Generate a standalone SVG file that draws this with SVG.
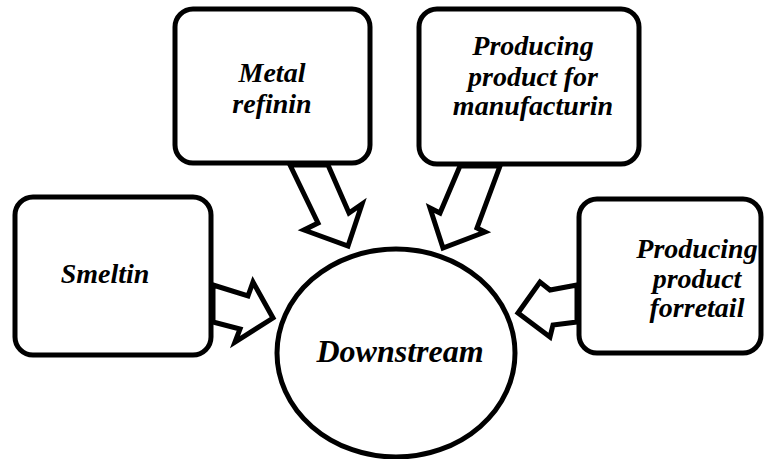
<svg xmlns="http://www.w3.org/2000/svg" width="767" height="459" viewBox="0 0 767 459">
<rect width="767" height="459" fill="#fff"/>
<g id="connectors" fill="#fff" stroke="#000" stroke-width="5">
<polygon points="290,165 318,223 304,230 348,246 362,204 349,213 328,165"/>
<polygon points="460,166 440,213 430,208 443,248 485,232 477,228 500,166"/>
<polygon points="213,285 248,296 253,282 273,318 235,342 240,329 213,322"/>
<polygon points="577,285 550,290 540,282 518,313 550,337 553,325 577,322"/>
</g>
<g id="metal">
<rect x="175" y="9" width="195" height="154" rx="18" fill="#fff" stroke="#000" stroke-width="5"/>
<text x="272" y="82" font-family="'Times New Roman', serif" font-weight="bold" font-style="italic" font-size="28" text-anchor="middle">Metal</text>
<text x="272" y="113" font-family="'Times New Roman', serif" font-weight="bold" font-style="italic" font-size="28" text-anchor="middle">refinin</text>
</g>
<g id="manufacturing">
<rect x="419" y="9" width="220" height="155" rx="18" fill="#fff" stroke="#000" stroke-width="5"/>
<text x="533" y="55" font-family="'Times New Roman', serif" font-weight="bold" font-style="italic" font-size="28" text-anchor="middle">Producing</text>
<text x="533" y="86" font-family="'Times New Roman', serif" font-weight="bold" font-style="italic" font-size="28" text-anchor="middle">product for</text>
<text x="533" y="115" font-family="'Times New Roman', serif" font-weight="bold" font-style="italic" font-size="28" text-anchor="middle">manufacturin</text>
</g>
<g id="smelting">
<rect x="15" y="197" width="196" height="158" rx="18" fill="#fff" stroke="#000" stroke-width="5"/>
<text x="105" y="283" font-family="'Times New Roman', serif" font-weight="bold" font-style="italic" font-size="28" text-anchor="middle">Smeltin</text>
</g>
<g id="retail">
<rect x="579" y="199" width="182" height="154" rx="18" fill="#fff" stroke="#000" stroke-width="5"/>
<text x="697" y="258" font-family="'Times New Roman', serif" font-weight="bold" font-style="italic" font-size="28" text-anchor="middle">Producing</text>
<text x="697" y="288" font-family="'Times New Roman', serif" font-weight="bold" font-style="italic" font-size="28" text-anchor="middle">product</text>
<text x="697" y="317" font-family="'Times New Roman', serif" font-weight="bold" font-style="italic" font-size="28" text-anchor="middle">forretail</text>
</g>
<g id="downstream">
<ellipse cx="396" cy="353" rx="119" ry="104" fill="#fff" stroke="#000" stroke-width="5"/>
<text x="400" y="362" font-family="'Times New Roman', serif" font-weight="bold" font-style="italic" font-size="32" text-anchor="middle">Downstream</text>
</g>
</svg>
